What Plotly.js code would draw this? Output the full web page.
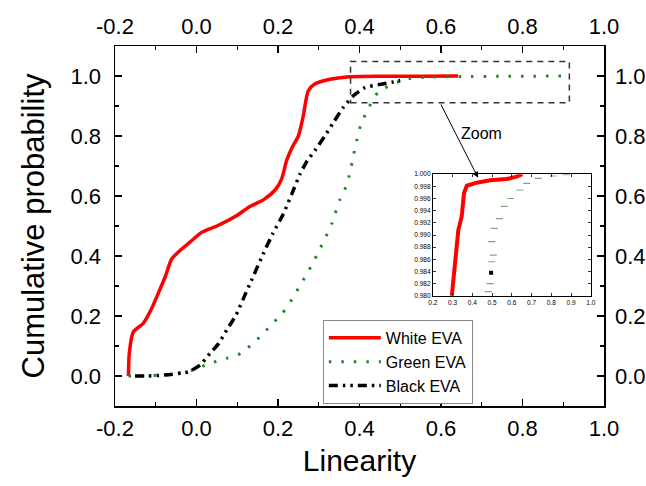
<!DOCTYPE html>
<html>
<head>
<meta charset="utf-8">
<script src="https://cdn.plot.ly/plotly-3.0.1.min.js"></script>
<style>html,body{margin:0;padding:0;background:#fff;}#chart{width:646px;height:486px;}</style>
</head>
<body>
<div id="chart"></div>
<script>
// Main CDF series
const whiteX = [-0.167,-0.165,-0.155,-0.131,-0.110,-0.094,-0.077,-0.061,-0.040,-0.016,0.013,0.050,0.099,0.131,0.164,0.193,0.209,0.221,0.234,0.250,0.262,0.274,0.291,0.328,0.369,0.45,0.55,0.642];
const whiteY = [0.000,0.075,0.147,0.175,0.225,0.275,0.330,0.390,0.419,0.446,0.479,0.500,0.535,0.565,0.587,0.620,0.657,0.718,0.760,0.800,0.867,0.950,0.974,0.989,0.997,0.999,0.999,1.000];

const greenX = [-0.167,-0.130,-0.090,-0.050,-0.010,0.037,0.074,0.111,0.135,0.160,0.182,0.209,0.234,0.252,0.269,0.287,0.301,0.317,0.332,0.340,0.351,0.366,0.377,0.385,0.393,0.403,0.418,0.446,0.512,0.560,0.650,0.750,0.900];
const greenY = [0.000,0.001,0.003,0.008,0.020,0.044,0.059,0.077,0.105,0.136,0.169,0.206,0.255,0.297,0.336,0.380,0.419,0.463,0.507,0.540,0.585,0.629,0.679,0.734,0.784,0.837,0.882,0.946,0.989,0.996,0.998,0.999,1.000];

const blackX = [-0.151,-0.120,-0.080,-0.020,0.009,0.033,0.054,0.074,0.097,0.115,0.135,0.164,0.187,0.213,0.234,0.254,0.272,0.293,0.315,0.336,0.360,0.385,0.413,0.450,0.483,0.500];
const blackY = [0.000,0.000,0.003,0.014,0.037,0.075,0.108,0.153,0.203,0.258,0.319,0.408,0.474,0.540,0.607,0.673,0.718,0.756,0.800,0.845,0.895,0.934,0.961,0.972,0.980,0.985];

// Inset (zoom) series
const zWhiteX = [0.296,0.313,0.329,0.346,0.358,0.372,0.422,0.490,0.574,0.624,0.653];
const zWhiteY = [0.9800,0.9859,0.9908,0.9930,0.9969,0.9981,0.9986,0.9990,0.9992,0.9996,1.0000];
const zGreenX = [0.481,0.490,0.498,0.506,0.498,0.511,0.537,0.562,0.594,0.641,0.675,0.734,0.809,0.877];
const zGreenY = [0.9807,0.9820,0.9856,0.9867,0.9889,0.9911,0.9927,0.9947,0.9960,0.9974,0.9985,0.9993,0.9997,0.9999];
const zBlackX = [0.495];
const zBlackY = [0.9838];

const seriesNames = ["White EVA","Green EVA","Black EVA"];
const xTicks = [-0.2,0.0,0.2,0.4,0.6,0.8,1.0];
const xTickText = ["-0.2","0.0","0.2","0.4","0.6","0.8","1.0"];
const yTicks = [0.0,0.2,0.4,0.6,0.8,1.0];
const yTickText = ["0.0","0.2","0.4","0.6","0.8","1.0"];

const RED = "#ff0000", GREEN = "#1f8a1f", BLACK = "#000000";
const FAM = "Liberation Sans, Arial, sans-serif";
const tickFont = {family:FAM, size:22, color:"#000"};

const data = [
  {x:whiteX, y:whiteY, name:seriesNames[0], mode:"lines", line:{color:RED, width:3.5, shape:"spline", smoothing:0.6}},
  {x:greenX, y:greenY, name:seriesNames[1], mode:"lines", line:{color:GREEN, width:3, dash:"2.5px,10px", shape:"spline", smoothing:0.6}},
  {x:blackX, y:blackY, name:seriesNames[2], mode:"lines", line:{color:BLACK, width:3.5, dash:"9px,5px,2.5px,5px,2.5px,5px", shape:"spline", smoothing:0.6}},
  {x:[], y:[], xaxis:"x2", yaxis:"y2", showlegend:false, hoverinfo:"skip"},
  {x:zWhiteX, y:zWhiteY, xaxis:"x3", yaxis:"y3", showlegend:false, mode:"lines", line:{color:RED, width:4}},
  {x:zGreenX, y:zGreenY, xaxis:"x3", yaxis:"y3", showlegend:false, mode:"markers", marker:{symbol:"line-ew", size:5, line:{color:"#7aa87a", width:1.2}}},
  {x:zBlackX, y:zBlackY, xaxis:"x3", yaxis:"y3", showlegend:false, mode:"markers", marker:{symbol:"square", size:4, color:BLACK}}
];

const xBase = {range:[-0.2,1.0], tickmode:"array", tickvals:xTicks, ticktext:xTickText, ticks:"inside", ticklen:7, tickwidth:1.2, tickcolor:"#000",
  showline:true, linecolor:"#000", linewidth:1.5, showgrid:false, zeroline:false, tickfont:tickFont, ticklabelstandoff:2,
  minor:{dtick:0.1, tick0:0, ticks:"inside", ticklen:4, tickwidth:1.2, tickcolor:"#000"}};
const yBase = {range:[-0.1,1.1], tickmode:"array", tickvals:yTicks, ticktext:yTickText, ticks:"inside", ticklen:7, tickwidth:1.2, tickcolor:"#000",
  showline:true, linecolor:"#000", linewidth:1.5, showgrid:false, zeroline:false, tickfont:tickFont, ticklabelstandoff:8,
  minor:{dtick:0.1, tick0:0, ticks:"inside", ticklen:4, tickwidth:1.2, tickcolor:"#000"}};

const smallFont = {family:FAM, size:6.5, color:"#000"};

const layout = {
  width:646, height:486,
  margin:{l:115, r:42, t:46, b:80},
  paper_bgcolor:"#fff", plot_bgcolor:"#fff",
  showlegend:true,
  legend:{x:0.425, y:0.239, xanchor:"left", yanchor:"top", bgcolor:"#fff", bordercolor:"#888", borderwidth:1,
    font:{family:FAM, size:16, color:"#000"}, tracegroupgap:0, itemwidth:52},
  xaxis:Object.assign({}, xBase, {domain:[0,1], anchor:"y", side:"bottom",
    title:{text:"Linearity", font:{family:FAM, size:30, color:"#000"}, standoff:10}}),
  yaxis:Object.assign({}, yBase, {domain:[0,1], anchor:"x", side:"left",
    title:{text:"Cumulative probability", font:{family:FAM, size:31, color:"#000"}, standoff:16}}),
  xaxis2:Object.assign({}, xBase, {overlaying:"x", side:"top", anchor:"y2"}),
  yaxis2:Object.assign({}, yBase, {overlaying:"y", side:"right", anchor:"x2", ticklabelstandoff:5}),
  xaxis3:{domain:[0.650,0.973], anchor:"y3", range:[0.2,1.0], dtick:0.1, tick0:0.2, tickformat:".1f",
    ticks:"inside", ticklen:3, tickwidth:0.8, tickcolor:"#000", showline:true, mirror:"allticks", linecolor:"#000", linewidth:1,
    showgrid:false, zeroline:false, tickfont:smallFont},
  yaxis3:{domain:[0.306,0.644], anchor:"x3", range:[0.980,1.000], dtick:0.002, tick0:0.98, tickformat:".3f",
    ticks:"inside", ticklen:3, tickwidth:0.8, tickcolor:"#000", showline:true, mirror:"allticks", linecolor:"#000", linewidth:1,
    showgrid:false, zeroline:false, tickfont:smallFont},
  shapes:[
    {type:"rect", xref:"x", yref:"y", x0:0.378, x1:0.915, y0:0.911, y1:1.048,
      line:{color:"#333", width:1.5, dash:"6px,5px"}, fillcolor:"rgba(0,0,0,0)"}
  ],
  annotations:[
    {xref:"x", yref:"y", x:0.691, y:0.661, ax:0.598, ay:0.910, axref:"x", ayref:"y",
      showarrow:true, arrowhead:2, arrowsize:1.2, arrowwidth:1, arrowcolor:"#000", text:""},
    {xref:"x", yref:"y", x:0.70, y:0.81, text:"Zoom", showarrow:false,
      font:{family:FAM, size:16, color:"#000"}}
  ]
};

Plotly.newPlot("chart", data, layout, {displayModeBar:false, staticPlot:true});
</script>
</body>
</html>
